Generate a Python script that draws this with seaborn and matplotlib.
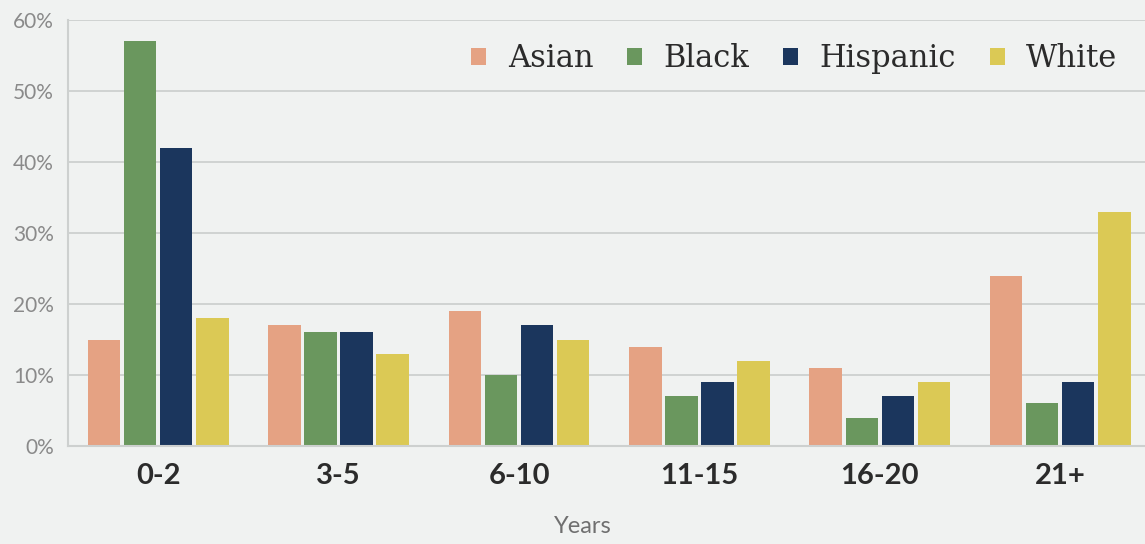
import matplotlib
matplotlib.use("Agg")
import matplotlib.pyplot as plt
import seaborn as sns
import pandas as pd
from matplotlib.ticker import PercentFormatter

years = ["0-2", "3-5", "6-10", "11-15", "16-20", "21+"]
groups = ["Asian", "Black", "Hispanic", "White"]
asian = [15, 17, 19, 14, 11, 24]
black = [57, 16, 10, 7, 4, 6]
hispanic = [42, 16, 17, 9, 7, 9]
white = [18, 13, 15, 12, 9, 33]
colors = ["#E5A283", "#6A975E", "#1B365D", "#DBC955"]

df = pd.DataFrame({
    "Years": years * 4,
    "Group": [g for g in groups for _ in years],
    "Share": asian + black + hispanic + white,
})

bg = "#F0F2F1"
sns.set_style("white")
plt.rcParams["font.family"] = ["Lato", "DejaVu Sans"]

fig = plt.figure(figsize=(11.45, 5.44), dpi=100, facecolor=bg)
ax = fig.add_axes([68 / 1145, 1 - 446 / 544, 1 - 68 / 1145, (446 - 20) / 544])
ax.set_facecolor(bg)

sns.barplot(data=df, x="Years", y="Share", hue="Group", order=years,
            hue_order=groups, palette=colors, width=0.8, gap=0.1,
            saturation=1, edgecolor="none", ax=ax)

ax.set_ylim(0, 60)
ax.set_xlim(-0.5, 5.47)
ax.yaxis.set_major_formatter(PercentFormatter(decimals=0))
ax.set_yticks(range(0, 61, 10))
ax.grid(axis="y", color="#CDD0CF", linewidth=1.3)
ax.set_axisbelow(True)
for s in ["top", "right"]:
    ax.spines[s].set_visible(False)
for s in ["left", "bottom"]:
    ax.spines[s].set_color("#CDD0CF")
    ax.spines[s].set_linewidth(1.5)

ax.tick_params(axis="y", length=0, labelsize=15, labelcolor="#8A8A8A", pad=10)
ax.tick_params(axis="x", length=0, labelsize=21, labelcolor="#2B2B2B", pad=12)
for lbl in ax.get_xticklabels():
    lbl.set_fontweight("bold")

ax.set_xlabel("Years", fontsize=17, color="#6F6F6F")
ax.xaxis.set_label_coords((583 - 68) / 1077, -0.165)
ax.set_ylabel("")

leg = ax.legend(loc="upper right", ncol=4, frameon=False,
                bbox_to_anchor=(1.0, 1.01), handlelength=0.5, handleheight=0.5,
                handletextpad=0.7, columnspacing=1.1,
                prop={"family": "DejaVu Serif", "size": 22})
for t in leg.get_texts():
    t.set_color("#2B2B2B")

fig.savefig("out.png", dpi=100, facecolor=bg)
